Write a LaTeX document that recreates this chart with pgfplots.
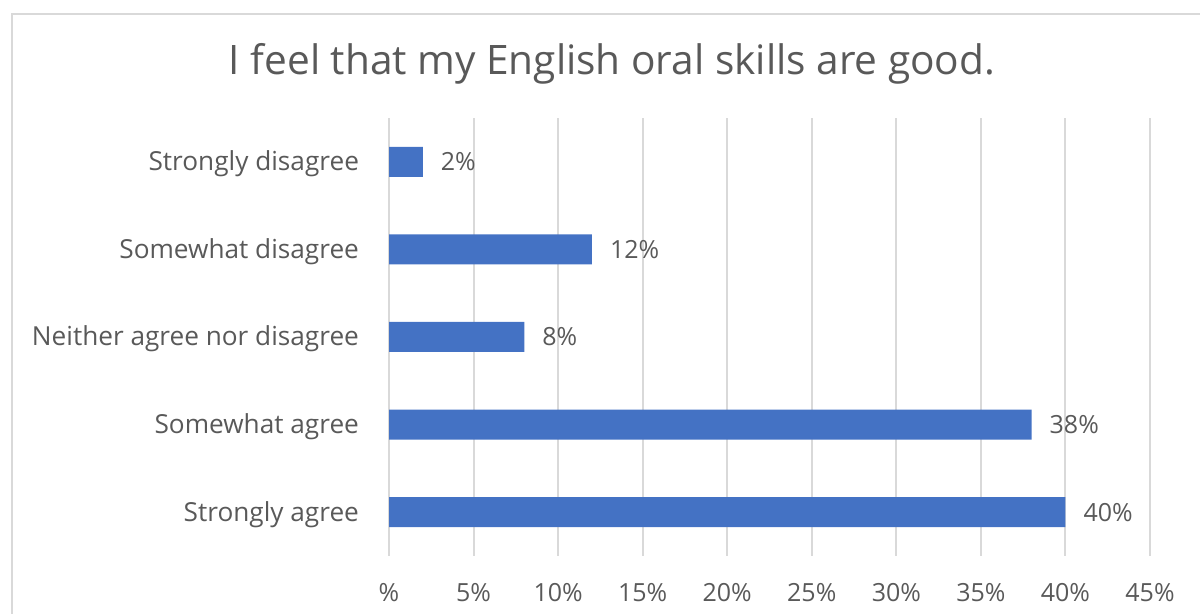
\documentclass[border=0pt]{standalone}
\usepackage{fontspec}
\setmainfont{Open Sans}
\usepackage{pgfplots}
\pgfplotsset{compat=1.18}
\definecolor{barblue}{HTML}{4472C4}
\definecolor{gridgray}{HTML}{D9D9D9}
\definecolor{txtgray}{HTML}{595959}
\begin{document}
\begin{tikzpicture}
\useasboundingbox (0,0) rectangle (600pt,307pt);
\draw[gridgray, line width=1pt] (6pt,-2pt) -- (6pt,300pt) -- (602pt,300pt);
\node[txtgray, font=\fontsize{20.3}{23}\selectfont] at (306pt,275pt) {I feel that my English oral skills are good.};
\begin{axis}[
  at={(194.5pt,29pt)}, anchor=south west,
  width=380.5pt, height=219pt, scale only axis,
  xbar, bar width=15pt,
  xmin=0, xmax=45, ymin=0.5, ymax=5.5,
  xtick={0,5,...,45},
  xticklabels={\%,5\%,10\%,15\%,20\%,25\%,30\%,35\%,40\%,45\%},
  ytick={1,2,3,4,5},
  yticklabels={Strongly agree,Somewhat agree,Neither agree nor disagree,Somewhat disagree,Strongly disagree},
  axis line style={draw=none},
  major tick length=0pt,
  xmajorgrids, grid style={gridgray, line width=1pt},
  tick label style={txtgray},
  xticklabel style={yshift=-10pt, font=\fontsize{12.5}{14}\selectfont},
  yticklabel style={xshift=-11.5pt, yshift=-1pt, font=\fontsize{13.1}{14}\selectfont},
  /pgf/number format/assume math mode=true,
  nodes near coords={\pgfmathprintnumber{\pgfplotspointmeta}\%},
  nodes near coords style={txtgray, font=\fontsize{12.5}{14}\selectfont, xshift=5.5pt},
  clip=false,
]
\addplot[fill=barblue, draw=none] coordinates {(40,1) (38,2) (8,3) (12,4) (2,5)};
\end{axis}
\end{tikzpicture}
\end{document}
